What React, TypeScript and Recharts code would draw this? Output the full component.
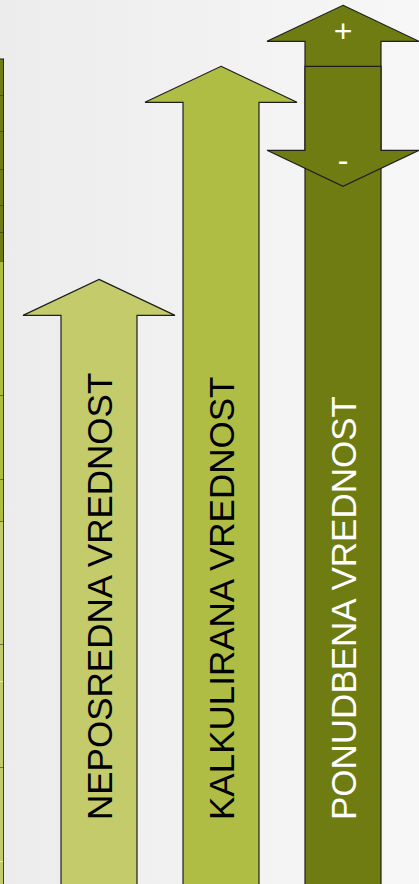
import React from 'react';
import { BarChart, Bar, XAxis, YAxis } from 'recharts';

// main arrows: height of each arrow tip on a 0-100 scale
const labels = ['NEPOSREDNA VREDNOST', 'KALKULIRANA VREDNOST', 'PONUDBENA VREDNOST'];
const values = [68.4, 92.5, 99.4];

// stacked strip cut off at the left edge, segments from bottom up
const stripValues = [23, 94, 86, 37, 123, 42, 84, 134, 29, 27, 36, 38, 36, 36];

const arrowFills = ['#c4cb6b', '#afbd45', '#6e7c12'];
const textFills = ['#000000', '#000000', '#ffffff'];
const stripFills = [
  '#c4cb6b', '#c4cb6b', '#c4cb6b', '#c4cb6b', '#c4cb6b',
  '#aebe42', '#aebe42', '#aebe42',
  '#6f7d12', '#6f7d12', '#6f7d12', '#6f7d12', '#6f7d12', '#6f7d12',
];
const stripLines = [
  '#ffffff', '#333333', '#ffffff', '#333333', '#333333',
  '#333333', '#333333', '#333333',
  '#333333', '#333333', '#333333', '#333333', '#333333', '#333333',
];

const data = labels.map((name, i) => ({ name, value: values[i] }));
const stripRow: Record<string, number | string> = { name: 'strip' };
stripValues.forEach((v, i) => {
  stripRow['s' + i] = v;
});
const stripData = [stripRow];

const STROKE = '#1f1f1f';
const FONT = '"Liberation Sans", Arial, sans-serif';

const Arrow = (props: any) => {
  const { x, y, width, height, index } = props;
  const cx = x + width / 2;
  const hw = width / 2;
  const bottom = y + height + 4;
  const head = 36;
  const over = 38;
  const fill = arrowFills[index];
  const pts = (arr: number[][]) => arr.map((p) => p.join(',')).join(' ');

  const label = (
    <text
      transform={`translate(${cx}, 820) rotate(-90)`}
      x={0}
      y={12.5}
      fontSize={35}
      fontFamily={FONT}
      fill={textFills[index]}
      textAnchor="start"
    >
      {labels[index]}
    </text>
  );

  if (index === 2) {
    // double-headed arrow (+ / -) on top of a long shaft
    const down = 145;
    return (
      <g>
        <rect x={cx - hw} y={y + 61} width={width} height={bottom - y - 61} fill={fill} stroke={STROKE} strokeWidth={1.2} />
        <polygon
          points={pts([
            [cx, y],
            [cx + hw + over, y + head],
            [cx + hw, y + head],
            [cx + hw, y + down],
            [cx + hw + over, y + down],
            [cx, y + down + head],
            [cx - hw - over, y + down],
            [cx - hw, y + down],
            [cx - hw, y + head],
            [cx - hw - over, y + head],
          ])}
          fill={fill}
          stroke={STROKE}
          strokeWidth={1.2}
        />
        <line x1={cx - hw} x2={cx + hw} y1={y + 61} y2={y + 61} stroke={STROKE} strokeWidth={1.2} />
        <text x={cx} y={y + 37} fontSize={32} fontFamily={FONT} fill="#ffffff" textAnchor="middle">+</text>
        <text x={cx} y={y + 166} fontSize={32} fontFamily={FONT} fill="#ffffff" textAnchor="middle">-</text>
        {label}
      </g>
    );
  }

  return (
    <g>
      <polygon
        points={pts([
          [cx, y],
          [cx + hw + over, y + head],
          [cx + hw, y + head],
          [cx + hw, bottom],
          [cx - hw, bottom],
          [cx - hw, y + head],
          [cx - hw - over, y + head],
        ])}
        fill={fill}
        stroke={STROKE}
        strokeWidth={1.2}
      />
      {label}
    </g>
  );
};

const StripSegment = (props: any) => {
  const { x, y, width, height, seg } = props;
  return (
    <g>
      <rect x={x} y={y} width={width} height={height} fill={stripFills[seg]} />
      <line x1={x} x2={x + width} y1={y} y2={y} stroke={stripLines[seg]} strokeWidth={1.2} />
      <line x1={x + width} x2={x + width} y1={y} y2={y + height} stroke="#111111" strokeWidth={1.5} />
    </g>
  );
};

const App = () => {
  return (
    <div
      style={{
        position: 'fixed',
        top: 0,
        left: 0,
        width: 419,
        height: 884,
        overflow: 'hidden',
        background: 'linear-gradient(to right, #ececec, #f7f7f7)',
      }}
    >
      <div style={{ position: 'absolute', left: -6, top: 0 }}>
        <BarChart width={10} height={884} data={stripData} margin={{ top: 0, right: 0, bottom: 0, left: 0 }} barCategoryGap={0}>
          <XAxis dataKey="name" hide height={0} />
          <YAxis hide width={0} domain={[0, 884]} />
          {stripValues.map((_, i) => (
            <Bar
              key={i}
              dataKey={'s' + i}
              stackId="strip"
              isAnimationActive={false}
              shape={(p: any) => <StripSegment {...p} seg={i} />}
            />
          ))}
        </BarChart>
      </div>
      <div style={{ position: 'absolute', left: 0, top: 0 }}>
        <BarChart width={419} height={884} data={data} margin={{ top: 0, right: 15, bottom: 0, left: 38 }}>
          <XAxis dataKey="name" hide height={0} />
          <YAxis hide width={0} domain={[0, 100]} />
          <Bar dataKey="value" barSize={76} isAnimationActive={false} shape={(p: any) => <Arrow {...p} />} />
        </BarChart>
      </div>
    </div>
  );
};

export default App;
